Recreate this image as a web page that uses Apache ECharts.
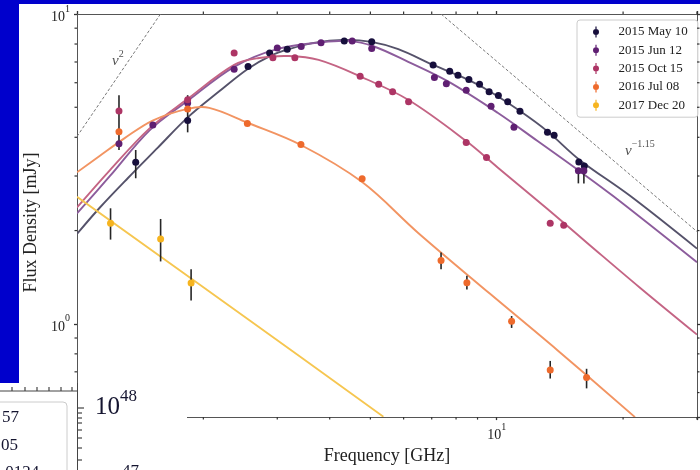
<!DOCTYPE html>
<html><head><meta charset="utf-8">
<script src="https://cdn.jsdelivr.net/npm/echarts@6/dist/echarts.min.js"></script>
<style>
html,body{margin:0;padding:0;background:#0000cc;width:700px;height:470px;overflow:hidden;}
#panel{position:absolute;left:19px;top:4px;width:681px;height:466px;background:#fff;}
#chart{position:absolute;left:0;top:0;width:700px;height:470px;}
</style></head><body><div id="panel"></div><div id="chart"></div>
<script>
// axis ranges
const X_MIN = 1, X_MAX = 30, Y_MIN = 0.5, Y_MAX = 10;
const xMinorTicks = [2, 3, 4, 5, 6, 7, 8, 9, 20, 30];
const yMinorTicks = [0.6, 0.7, 0.8, 0.9, 2, 3, 4, 5, 6, 7, 8, 9];

const seriesNames = ['2015 May 10', '2015 Jun 12', '2015 Oct 15', '2016 Jul 08', '2017 Dec 20'];
const pointColors = ['#170f3c', '#5f1f72', '#ad3565', '#ee6a2c', '#f6b41f'];
const fitColors = ['#55526a', '#8c5c9c', '#c46484', '#f29462', '#f6c650'];

// observed flux densities [GHz, mJy]
const may10 = [[1.380,3.32],[1.835,4.53],[2.556,6.77],[2.877,7.48],[3.168,7.70],[4.332,8.18],[5.037,8.14],[7.054,6.85],[7.726,6.53],[8.084,6.34],[8.583,6.15],[9.100,5.93],[9.590,5.61],[10.09,5.46],[10.62,5.21],[11.36,4.85],[13.21,4.15],[13.70,4.06],[15.69,3.33],[16.17,3.23]];
const jun12 = [[1.259,3.81],[1.516,4.38],[1.835,5.16],[2.368,6.63],[3.0,7.76],[3.421,7.85],[3.814,8.08],[4.525,8.18],[5.037,7.74],[7.104,6.24],[7.585,5.96],[8.458,5.67],[9.694,5.04],[10.99,4.31],[15.65,3.12],[16.13,3.12]];
const oct15 = [[1.259,4.86],[1.835,5.29],[2.368,7.48],[2.929,7.23],[3.304,7.23],[4.727,6.30],[5.233,5.93],[5.648,5.61],[6.165,5.21],[8.458,3.85],[9.454,3.44],[13.41,2.11],[14.44,2.08]];
const jul08 = [[1.259,4.17],[1.835,4.94],[2.546,4.43],[3.416,3.79],[4.779,2.94],[7.368,1.60],[8.490,1.357],[10.85,1.02],[13.41,0.709],[16.37,0.671]];
const dec20 = [[1.202,2.11],[1.582,1.88],[1.870,1.354]];

// error bars [GHz, low, high]
const errMay10 = [[1.380,2.95,3.64],[1.835,4.15,5.47]];
const errJun12 = [[15.65,2.84,3.12],[16.13,2.84,3.12]];
const errOct15 = [[1.259,3.64,5.47]];
const errJul08 = [[7.368,1.50,1.70],[8.490,1.29,1.43],[10.85,0.97,1.06],[13.41,0.666,0.759],[16.37,0.619,0.716]];
const errDec20 = [[1.202,1.87,2.36],[1.582,1.59,2.18],[1.870,1.19,1.50]];

// model curves [GHz, mJy]
const fitMay10 = [[1.0,1.951],[1.134,2.374],[1.321,2.951],[1.556,3.697],[1.833,4.63],[2.182,5.63],[2.556,6.66],[2.883,7.317],[3.198,7.70],[3.664,8.07],[4.315,8.25],[5.028,8.13],[5.827,7.70],[7.054,6.85],[8.31,6.24],[9.52,5.675],[11.34,4.87],[13.21,4.18],[15.73,3.388],[20.78,2.589],[30,1.749]];
const fitJun12 = [[1.0,2.272],[1.197,2.995],[1.489,4.213],[1.833,5.24],[2.368,6.754],[2.995,7.70],[3.807,8.10],[4.437,8.19],[5.083,7.87],[6.153,7.007],[7.655,6.058],[10.05,4.80],[12.51,3.89],[15.65,3.13],[19.04,2.571],[30,1.580]];
const fitOct15 = [[1.0,2.374],[1.197,3.13],[1.489,4.275],[1.833,5.316],[2.368,6.855],[2.715,7.211],[3.198,7.317],[3.765,7.107],[4.736,6.283],[6.165,5.278],[8.458,3.89],[10.05,3.198],[13.21,2.348],[16.61,1.801],[21.94,1.308],[30,0.923]];
const fitJul08 = [[1.0,3.083],[1.134,3.488],[1.299,3.976],[1.514,4.531],[1.833,4.943],[2.066,4.98],[2.542,4.465],[3.416,3.778],[4.779,2.867],[6.5,1.965],[9.625,1.252],[13.95,0.822],[21.35,0.50]];
const fitDec20 = [[1.0,2.571],[2.570,1.029],[5.37,0.5016]];

// reference power laws
const refNu2 = [[1.0,4.025],[1.581,10]];
const refNu115 = [[7.37,10],[30,1.985]];
const labelNu2 = [1.251, 7.16];
const labelNu115 = [21.94, 3.67];

const SERIF = '"Liberation Serif", "DejaVu Serif", serif';
const scatterData = [may10, jun12, oct15, jul08, dec20];
const fitData = [fitMay10, fitJun12, fitOct15, fitJul08, fitDec20];
const errData = [errMay10, errJun12, errOct15, errJul08, errDec20];

function powLabel(v) {
  const e = Math.round(Math.log10(v));
  if (Math.abs(Math.pow(10, e) - v) > 1e-6 * v) return '';
  return '{b|10}{s|' + e + '}';
}
const powRich = {
  b: {fontFamily: SERIF, fontSize: 14, color: '#222', lineHeight: 20, verticalAlign: 'bottom'},
  s: {fontFamily: SERIF, fontSize: 10, color: '#222', lineHeight: 10, verticalAlign: 'top'}
};

// polyline drawn in screen space through the axis scales
function curveSeries(name, pts, color, width, dash, z) {
  return {type: 'custom', name: name, data: pts, encode: {x: 0, y: 1}, clip: true, silent: true, z: z,
    renderItem: function (params, api) {
      if (params.dataIndex !== 0) return null;
      const px = pts.map(p => api.coord(p));
      return {type: 'polyline', shape: {points: px, smooth: dash ? 0 : 0.35},
        style: {stroke: color, lineWidth: width, fill: null, lineDash: dash || null}};
    }};
}

const series = [];
fitData.forEach((d, i) => series.push(curveSeries('fit ' + seriesNames[i], d, fitColors[i], 1.9, null, 2)));
errData.forEach((d, i) => {
  series.push({type: 'custom', name: 'err ' + seriesNames[i], data: d, z: 3, silent: true, clip: false,
    encode: {x: 0, y: [1, 2]},
    renderItem: function (params, api) {
      const x = api.value(0);
      const p1 = api.coord([x, api.value(1)]);
      const p2 = api.coord([x, api.value(2)]);
      return {type: 'line', shape: {x1: p1[0], y1: p1[1], x2: p2[0], y2: p2[1]},
        style: {stroke: '#262626', lineWidth: 1.6}};
    }});
});
scatterData.forEach((d, i) => {
  series.push({type: 'scatter', name: seriesNames[i], data: d, symbol: 'circle', symbolSize: 7, z: 4,
    itemStyle: {color: pointColors[i], opacity: 1}});
});
series.push(curveSeries('nu2', refNu2, '#777', 1, [3, 2], 1));
series.push(curveSeries('nu115', refNu115, '#777', 1, [3, 2], 1));
const nuRich = {
  n: {fontFamily: SERIF, fontStyle: 'italic', fontSize: 15, color: '#222', lineHeight: 20, verticalAlign: 'bottom'},
  s: {fontFamily: SERIF, fontSize: 10, color: '#222', lineHeight: 11, verticalAlign: 'top'}
};
series.push({type: 'scatter', name: 'labels', silent: true, symbolSize: 0, z: 5,
  data: [{value: labelNu2, label: {formatter: '{n|ν}{s|2}'}}, {value: labelNu115, label: {formatter: '{n|ν}{s|−1.15}'}}],
  label: {show: true, position: 'inside', rich: nuRich}});
// minor ticks (through axis scales)
series.push({type: 'custom', name: 'xminor', silent: true, clip: false, z: 5,
  data: xMinorTicks.map(v => [v, Y_MIN]), encode: {x: 0, y: 1},
  renderItem: function (params, api) {
    const v = api.value(0);
    const b = api.coord([v, Y_MIN]), t = api.coord([v, Y_MAX]);
    const st = {stroke: '#333', lineWidth: 1.2};
    return {type: 'group', children: [
      {type: 'line', shape: {x1: b[0], y1: b[1], x2: b[0], y2: b[1] + 2.5}, style: st},
      {type: 'line', shape: {x1: t[0], y1: t[1], x2: t[0], y2: t[1] - 2.5}, style: st}]};
  }});
series.push({type: 'custom', name: 'yminor', silent: true, clip: false, z: 5,
  data: yMinorTicks.map(v => [X_MIN, v]), encode: {x: 0, y: 1},
  renderItem: function (params, api) {
    const v = api.value(1);
    const l = api.coord([X_MIN, v]), r = api.coord([X_MAX, v]);
    const st = {stroke: '#333', lineWidth: 1.2};
    return {type: 'group', children: [
      {type: 'line', shape: {x1: l[0], y1: l[1], x2: l[0] - 2.5, y2: l[1]}, style: st},
      {type: 'line', shape: {x1: r[0], y1: r[1], x2: r[0] + 2.5, y2: r[1]}, style: st}]};
  }});

const axisLine = {show: true, onZero: false, lineStyle: {color: '#555', width: 1}};
const axisTick = {show: true, inside: false, length: 3, lineStyle: {color: '#333', width: 1.3}};

const legendIcon = 'path://M2.4,0h1.2v11h-1.2Z M3,2.5a3,3 0 1,1 0,6a3,3 0 1,1 0,-6Z';

const fragColor = '#151530';
const graphicEls = [
  {type: 'rect', z: 100, shape: {x: 0, y: 383, width: 187, height: 87}, style: {fill: '#fff'}},
  {type: 'line', z: 101, shape: {x1: 0, y1: 391, x2: 78, y2: 391}, style: {stroke: '#444', lineWidth: 1}},
  {type: 'line', z: 101, shape: {x1: 77.5, y1: 383, x2: 77.5, y2: 470}, style: {stroke: '#444', lineWidth: 1}},
  {type: 'rect', z: 101, shape: {x: -6, y: 402, width: 73, height: 80, r: 4}, style: {fill: '#fff', stroke: '#ccc', lineWidth: 1}},
  {type: 'text', z: 102, x: 2, y: 418, style: {text: '57', fontFamily: SERIF, fontSize: 17, fill: fragColor, verticalAlign: 'middle'}},
  {type: 'text', z: 102, x: 1, y: 446, style: {text: '05', fontFamily: SERIF, fontSize: 17, fill: fragColor, verticalAlign: 'middle'}},
  {type: 'text', z: 102, x: 1, y: 464, style: {text: '.0124', fontFamily: SERIF, fontSize: 17, fill: fragColor, verticalAlign: 'top'}},
  {type: 'text', z: 102, x: 95, y: 388, style: {text: '{a|10}{b|48}', rich: {
      a: {fontFamily: SERIF, fontSize: 25, fill: fragColor, color: fragColor, lineHeight: 32, verticalAlign: 'bottom'},
      b: {fontFamily: SERIF, fontSize: 17, fill: fragColor, color: fragColor, lineHeight: 16, verticalAlign: 'top'}}}},
  {type: 'text', z: 102, x: 122, y: 463, style: {text: '47', fontFamily: SERIF, fontSize: 17, fill: fragColor, verticalAlign: 'top'}}
];
[12, 25, 37, 49, 61, 72].forEach(x => graphicEls.push({type: 'line', z: 101,
  shape: {x1: x, y1: 391, x2: x, y2: 387}, style: {stroke: '#444', lineWidth: 1.2}}));
[[408, 6], [413, 4], [418, 4], [423, 4], [430, 4], [438, 4], [448, 4], [460, 4]].forEach(t => graphicEls.push({type: 'line', z: 101,
  shape: {x1: 78, y1: t[0], x2: 78 + t[1], y2: t[0]}, style: {stroke: '#444', lineWidth: 1.2}}));

const chart = echarts.init(document.getElementById('chart'), null, {renderer: 'canvas'});
chart.setOption({
  animation: false,
  backgroundColor: 'transparent',
  grid: {left: 77, top: 14, right: 1, bottom: 44, containLabel: false},
  legend: {data: seriesNames, orient: 'vertical', left: 577, top: 20, icon: legendIcon,
    itemWidth: 35, itemHeight: 11, itemGap: 4.3, padding: [5, 10, 5, 16],
    backgroundColor: '#fff', borderColor: '#ccc', borderWidth: 1, borderRadius: 3,
    textStyle: {fontFamily: SERIF, fontSize: 13, color: '#222', lineHeight: 14}, selectedMode: false},
  xAxis: [
    {type: 'log', logBase: 10, min: X_MIN, max: X_MAX, position: 'bottom', axisLine: axisLine, axisTick: axisTick,
     splitLine: {show: false}, axisLabel: {formatter: powLabel, rich: powRich, margin: 5},
     name: 'Frequency [GHz]', nameLocation: 'middle', nameGap: 22,
     nameTextStyle: {fontFamily: SERIF, fontSize: 18, color: '#222'}},
    {type: 'log', logBase: 10, min: X_MIN, max: X_MAX, position: 'top', axisLine: axisLine, axisTick: axisTick,
     splitLine: {show: false}, axisLabel: {show: false}}
  ],
  yAxis: [
    {type: 'log', logBase: 10, min: Y_MIN, max: Y_MAX, position: 'left', axisLine: axisLine, axisTick: axisTick,
     splitLine: {show: false}, axisLabel: {formatter: powLabel, rich: powRich, margin: 7},
     name: 'Flux Density [mJy]', nameLocation: 'middle', nameGap: 36,
     nameTextStyle: {fontFamily: SERIF, fontSize: 18, color: '#222', padding: [0, 14, 0, 0]}},
    {type: 'log', logBase: 10, min: Y_MIN, max: Y_MAX, position: 'right', axisLine: axisLine, axisTick: axisTick,
     splitLine: {show: false}, axisLabel: {show: false}}
  ],
  series: series,
  graphic: {elements: graphicEls}
});
</script></body></html>
